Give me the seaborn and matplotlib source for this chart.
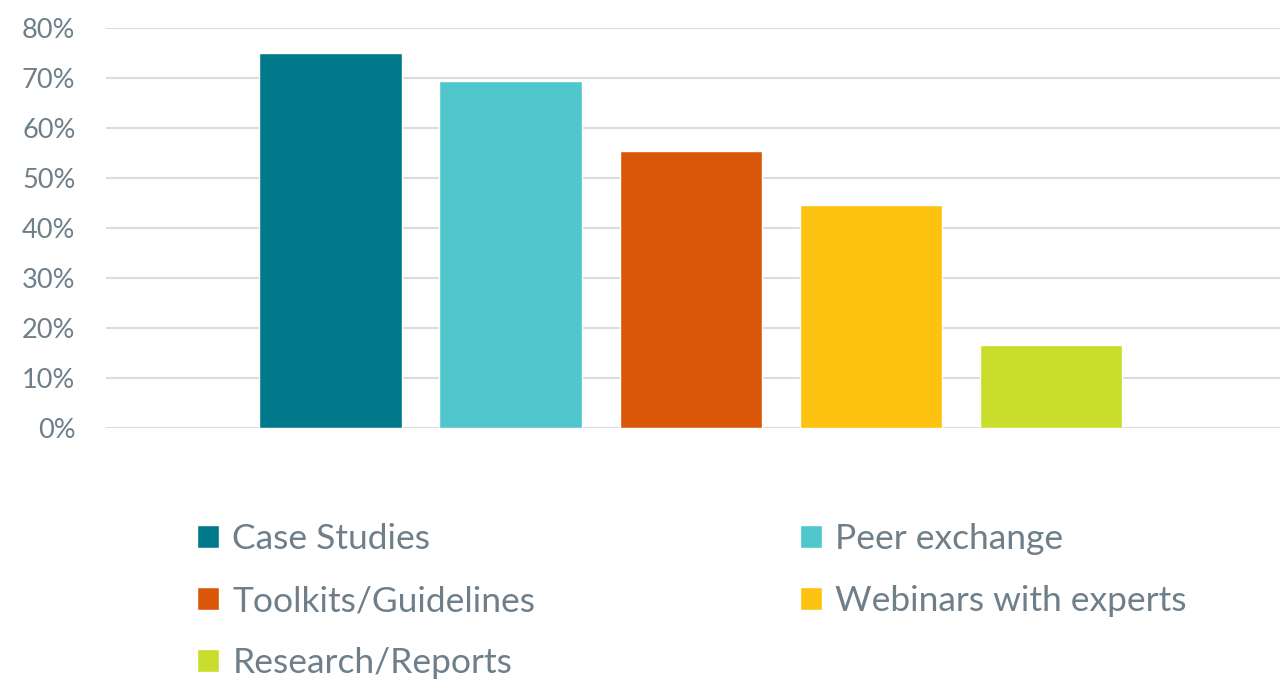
import pandas as pd
import matplotlib
matplotlib.use('Agg')
import matplotlib.pyplot as plt
import seaborn as sns

# 数据
items = ['Case Studies', 'Peer exchange', 'Toolkits/Guidelines', 'Webinars with experts', 'Research/Reports']
values = [0.75, 0.694, 0.554, 0.446, 0.166]
colors = ['#007A8A', '#4FC7CC', '#DA570A', '#FEC210', '#C9DD2C']
y_ticks = [0, 0.1, 0.2, 0.3, 0.4, 0.5, 0.6, 0.7, 0.8]

sns.set_theme(style='white')
plt.rcParams['font.family'] = ['Lato', 'DejaVu Sans']
text_color = '#6E7F8A'

df = pd.DataFrame({'group': [''] * len(items), 'item': items, 'value': values})

fig = plt.figure(figsize=(12.88, 6.8), dpi=100)
ax = fig.add_axes([106 / 1288, 1 - 428 / 680, (1280 - 106) / 1288, 400 / 680])

sns.barplot(data=df, x='group', y='value', hue='item', hue_order=items,
            palette=colors, width=0.767, gap=0.21, saturation=1, ax=ax)

handles, labels = ax.get_legend_handles_labels()
ax.get_legend().remove()

ax.set_xlim(-0.498, 0.502)
ax.set_ylim(0, 0.8)
ax.set_yticks(y_ticks)
ax.set_yticklabels([f'{int(round(v * 100))}%' for v in y_ticks])
ax.yaxis.grid(True, color='#D9DDE0', linewidth=1.5)
ax.set_axisbelow(True)
ax.set_xticks([])
ax.set_xlabel('')
ax.set_ylabel('')
ax.tick_params(axis='y', length=0, pad=22, labelsize=19.5, labelcolor=text_color)
for s in ax.spines.values():
    s.set_visible(False)

# 图例按行排列：重排为列优先
order = [0, 2, 4, 1, 3]
leg = fig.legend([handles[i] for i in order], [labels[i] for i in order],
                 loc='upper left', bbox_to_anchor=(197 / 1288, 1 - 523 / 680),
                 ncol=2, frameon=False, fontsize=25.5,
                 handlelength=0.62, handleheight=0.62, handletextpad=0.38,
                 columnspacing=7.47, labelspacing=0.85, borderpad=0, borderaxespad=0)
for t in leg.get_texts():
    t.set_color(text_color)

fig.savefig('out.png', dpi=100)
